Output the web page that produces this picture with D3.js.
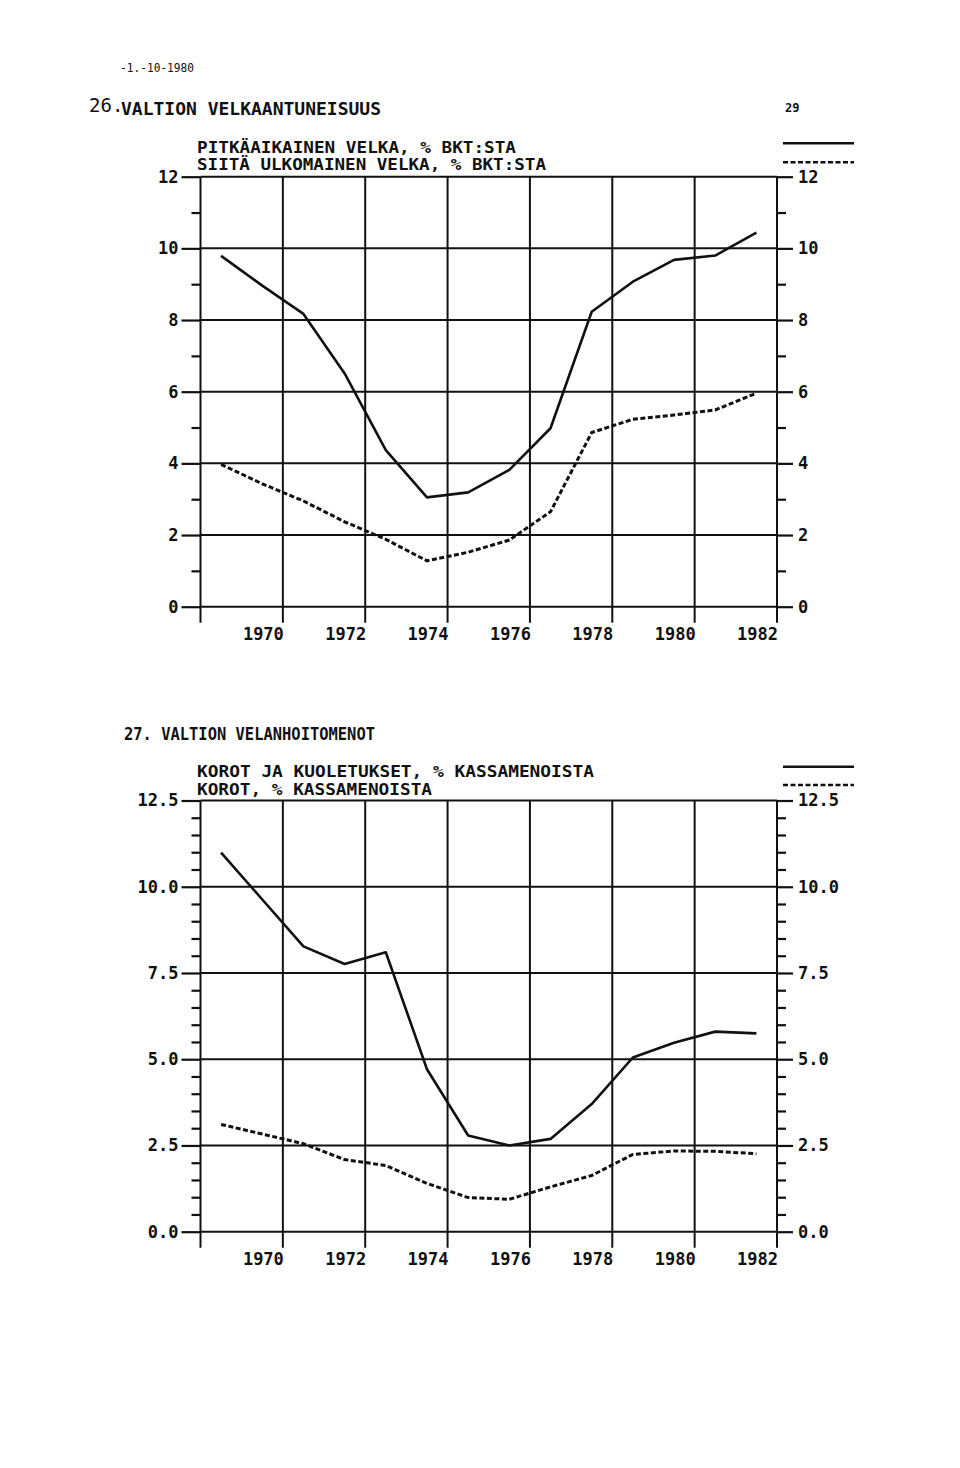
<!DOCTYPE html>
<html>
<head>
<meta charset="utf-8">
<script src="https://cdn.jsdelivr.net/npm/d3@7"></script>
<style>
  html, body { margin: 0; padding: 0; background: #fff; }
  svg { display: block; }
  text { font-family: "DejaVu Sans Mono", "Liberation Mono", monospace; fill: #111; }
</style>
</head>
<body>
<svg id="chart" width="960" height="1468"></svg>
<script>
// ---------------- DATA ----------------
const years = [1968, 1969, 1970, 1971, 1972, 1973, 1974, 1975, 1976, 1977, 1978, 1979, 1980, 1981];

// Chart 26: VALTION VELKAANTUNEISUUS
const debtTotal   = [9.79, 8.96, 8.17, 6.51, 4.37, 3.05, 3.19, 3.82, 4.98, 8.23, 9.07, 9.68, 9.80, 10.44];
const debtForeign = [3.97, 3.43, 2.95, 2.37, 1.88, 1.28, 1.52, 1.86, 2.65, 4.86, 5.23, 5.35, 5.49, 5.96];

// Chart 27: VALTION VELANHOITOMENOT
const serviceTotal    = [10.99, 9.63, 8.27, 7.76, 8.10, 4.71, 2.79, 2.50, 2.69, 3.70, 5.05, 5.48, 5.80, 5.75];
const serviceInterest = [3.11, 2.83, 2.55, 2.09, 1.92, 1.40, 0.99, 0.94, 1.30, 1.63, 2.24, 2.34, 2.33, 2.26];

const yearGrid   = [1968, 1970, 1972, 1974, 1976, 1978, 1980, 1982];
const yearLabels = [1970, 1972, 1974, 1976, 1978, 1980, 1982];

const ticks1Major = [0, 2, 4, 6, 8, 10, 12];
const ticks1Minor = [1, 3, 5, 7, 9, 11];
const ticks2Major = [0, 2.5, 5, 7.5, 10, 12.5];
const ticks2Minor = [0.5, 1, 1.5, 2, 3, 3.5, 4, 4.5, 5.5, 6, 6.5, 7, 8, 8.5, 9, 9.5, 10.5, 11, 11.5, 12];

const title1 = "VALTION VELKAANTUNEISUUS";
const num1 = "26.";
const legend1 = ["PITKÄAIKAINEN VELKA, % BKT:STA", "SIITÄ ULKOMAINEN VELKA, % BKT:STA"];
const title2 = "27. VALTION VELANHOITOMENOT";
const legend2 = ["KOROT JA KUOLETUKSET, % KASSAMENOISTA", "KOROT, % KASSAMENOISTA"];
const stampText = "-1.-10-1980";
const pageNo = "29";

// ---------------- DRAWING ----------------
const svg = d3.select("#chart");
const INK = "#111";
const x = d3.scaleLinear().domain([1968, 1982]).range([200.5, 777]);

function drawChart(opt) {
  const g = svg.append("g");
  const y = d3.scaleLinear().domain(opt.domain).range([opt.bottom, opt.top]);
  const yTop = y(opt.domain[1]), yBot = y(opt.domain[0]);

  // horizontal gridlines
  g.selectAll("line.hgrid").data(opt.major).join("line")
    .attr("x1", x.range()[0]).attr("x2", x.range()[1])
    .attr("y1", d => y(d)).attr("y2", d => y(d))
    .attr("stroke", INK).attr("stroke-width", 2);

  // vertical gridlines (+ ticks below the bottom)
  g.selectAll("line.vgrid").data(yearGrid).join("line")
    .attr("x1", d => x(d)).attr("x2", d => x(d))
    .attr("y1", yTop).attr("y2", yBot + 16)
    .attr("stroke", INK).attr("stroke-width", 2);

  // axes
  const fmt = opt.fmt;
  g.append("g").attr("transform", `translate(${x.range()[0]},0)`)
    .call(d3.axisLeft(y).tickValues(opt.major).tickSize(19).tickPadding(3).tickFormat(fmt));
  g.append("g").attr("transform", `translate(${x.range()[0]},0)`)
    .call(d3.axisLeft(y).tickValues(opt.minor).tickSize(9).tickFormat(""));
  g.append("g").attr("transform", `translate(${x.range()[1]},0)`)
    .call(d3.axisRight(y).tickValues(opt.major).tickSize(16).tickPadding(5).tickFormat(fmt));
  g.append("g").attr("transform", `translate(${x.range()[1]},0)`)
    .call(d3.axisRight(y).tickValues(opt.minor).tickSize(9).tickFormat(""));
  g.selectAll(".domain").remove();
  g.selectAll(".tick line").attr("stroke", INK).attr("stroke-width", 2.2);
  g.selectAll(".tick text").attr("font-size", 17).attr("font-weight", "bold")
    .attr("font-family", '"DejaVu Sans Mono", monospace').attr("fill", INK);

  // x labels
  g.selectAll("text.xl").data(yearLabels).join("text")
    .attr("x", d => x(d) + 1).attr("y", yBot + 33)
    .attr("text-anchor", "end").attr("font-size", 17).attr("font-weight", "bold")
    .text(d => d);

  // series
  const line = d3.line().x((d, i) => x(years[i] + 0.5)).y(d => y(d));
  g.append("path").attr("d", line(opt.solid)).attr("fill", "none")
    .attr("stroke", INK).attr("stroke-width", 2.6).attr("stroke-linejoin", "round");
  g.append("path").attr("d", line(opt.dashed)).attr("fill", "none")
    .attr("stroke", INK).attr("stroke-width", 3).attr("stroke-dasharray", "5,2.5");

  // legend
  g.append("text").attr("x", 197).attr("y", opt.leg1y)
    .attr("font-size", 16).attr("font-weight", "bold")
    .attr("textLength", opt.leg1len).attr("lengthAdjust", "spacingAndGlyphs").text(opt.legend[0]);
  g.append("text").attr("x", 197).attr("y", opt.leg2y)
    .attr("font-size", 16).attr("font-weight", "bold")
    .attr("textLength", opt.leg2len).attr("lengthAdjust", "spacingAndGlyphs").text(opt.legend[1]);
  g.append("line").attr("x1", 783).attr("x2", 854).attr("y1", opt.ls1).attr("y2", opt.ls1)
    .attr("stroke", INK).attr("stroke-width", 2.4);
  g.append("line").attr("x1", 783).attr("x2", 854).attr("y1", opt.ls2).attr("y2", opt.ls2)
    .attr("stroke", INK).attr("stroke-width", 2.6).attr("stroke-dasharray", "5,2.5");
}

drawChart({
  domain: [0, 12], bottom: 606.7, top: 176.7,
  major: ticks1Major, minor: ticks1Minor, fmt: d3.format("d"),
  solid: debtTotal, dashed: debtForeign, legend: legend1,
  leg1y: 152.5, leg2y: 169.5, leg1len: 319, leg2len: 349, ls1: 143.3, ls2: 162.3
});

drawChart({
  domain: [0, 12.5], bottom: 1231.7, top: 800.5,
  major: ticks2Major, minor: ticks2Minor, fmt: d3.format(".1f"),
  solid: serviceTotal, dashed: serviceInterest, legend: legend2,
  leg1y: 777, leg2y: 795, leg1len: 397, leg2len: 235, ls1: 766.7, ls2: 785
});

// titles & page marks
svg.append("text").attr("x", 89).attr("y", 112).attr("font-size", 19).text(num1);
svg.append("text").attr("x", 121).attr("y", 115).attr("font-size", 17).attr("font-weight", "bold")
  .attr("textLength", 260).attr("lengthAdjust", "spacingAndGlyphs").text(title1);
svg.append("text").attr("x", 124).attr("y", 740).attr("font-size", 17).attr("font-weight", "bold")
  .attr("textLength", 251).attr("lengthAdjust", "spacingAndGlyphs").text(title2);
svg.append("text").attr("x", 785).attr("y", 112).attr("font-size", 12).attr("font-weight", "bold").text(pageNo);
svg.append("text").attr("x", 120).attr("y", 72).attr("font-size", 12)
  .attr("textLength", 74).attr("lengthAdjust", "spacingAndGlyphs").text(stampText);
</script>
</body>
</html>
